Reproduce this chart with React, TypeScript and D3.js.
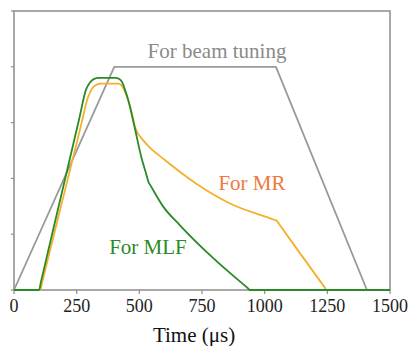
import React from "react";
import * as d3 from "d3";

const xTicks = [0, 250, 500, 750, 1000, 1250, 1500];
const yTicks = [0, 1, 2, 3, 4, 5];

const tuningX = [0, 400, 1045, 1408, 1500];
const tuningY = [0, 4, 4, 0, 0];

const mrX = [0, 105, 112, 200, 265, 295, 310, 325, 345, 415, 428, 443, 470, 480, 490, 505, 536, 602, 729, 862, 1040, 1048, 1056, 1240, 1247, 1500];
const mrY = [0, 0, 0.13, 1.727, 2.906, 3.45, 3.6, 3.67, 3.7, 3.7, 3.67, 3.55, 3.17, 2.97, 2.84, 2.74, 2.58, 2.33, 1.9, 1.55, 1.254, 1.24, 1.19, 0.043, 0, 0];

const mlfX = [0, 100, 107, 200, 260, 288, 303, 318, 338, 405, 420, 432, 442, 456, 483, 509, 530, 536, 545, 596, 662, 795, 934, 941, 1500];
const mlfY = [0, 0, 0.137, 1.917, 3.065, 3.6, 3.72, 3.78, 3.8, 3.8, 3.78, 3.72, 3.6, 3.4, 2.88, 2.36, 2.04, 1.94, 1.87, 1.49, 1.16, 0.57, 0.027, 0, 0];

const W = 409;
const H = 346;
const L = 14, R = 390, T = 11, B = 290;
const FONT = '"Liberation Serif", "DejaVu Serif", "Times New Roman", Times, serif';

export default function App() {
  const x = d3.scaleLinear().domain([0, 1500]).range([L, R]);
  const y = d3.scaleLinear().domain([0, 5]).range([B, T]);
  const line = d3
    .line<[number, number]>()
    .x((d) => x(d[0]))
    .y((d) => y(d[1]));
  const smooth = d3
    .line<[number, number]>()
    .x((d) => x(d[0]))
    .y((d) => y(d[1]))
    .curve(d3.curveMonotoneX);
  const pts = (xs: number[], ys: number[]) => xs.map((v, i) => [v, ys[i]] as [number, number]);
  const axisColor = "#8c8c8c";
  const ts = { fontFamily: FONT };

  return (
    <svg
      width={W}
      height={H}
      style={{ position: "absolute", left: 0, top: 0, background: "#fff", fontFamily: FONT }}
    >
      <rect x={L} y={T} width={R - L} height={B - T} fill="none" stroke={axisColor} strokeWidth={1.5} />
      {xTicks.map((t) => (
        <g key={"x" + t}>
          <line x1={x(t)} x2={x(t)} y1={B} y2={B + 4} stroke={axisColor} strokeWidth={1.2} />
          <text x={x(t)} y={311.5} fontSize={18} textAnchor="middle" fill="#222" style={ts}>
            {t}
          </text>
        </g>
      ))}
      {yTicks.map((t) => (
        <line key={"y" + t} x1={L - 3} x2={L} y1={y(t)} y2={y(t)} stroke={axisColor} strokeWidth={1.2} />
      ))}
      <path d={line(pts(tuningX, tuningY)) || ""} fill="none" stroke="#999999" strokeWidth={1.8} strokeLinejoin="round" />
      <path d={smooth(pts(mrX, mrY)) || ""} fill="none" stroke="#f5b02a" strokeWidth={1.8} strokeLinejoin="round" />
      <path d={smooth(pts(mlfX, mlfY)) || ""} fill="none" stroke="#2a8a26" strokeWidth={1.8} strokeLinejoin="round" />
      <text x={217} y={58} fontSize={21} textAnchor="middle" fill="#8a8a8a" style={ts}>
        For beam tuning
      </text>
      <text x={252} y={190} fontSize={21} textAnchor="middle" fill="#ee7a3c" style={ts}>
        For MR
      </text>
      <text x={148} y={254} fontSize={21} textAnchor="middle" fill="#2a8a26" style={ts}>
        For MLF
      </text>
      <text x={194} y={342} fontSize={21} textAnchor="middle" fill="#111" style={ts}>
        Time (μs)
      </text>
    </svg>
  );
}
